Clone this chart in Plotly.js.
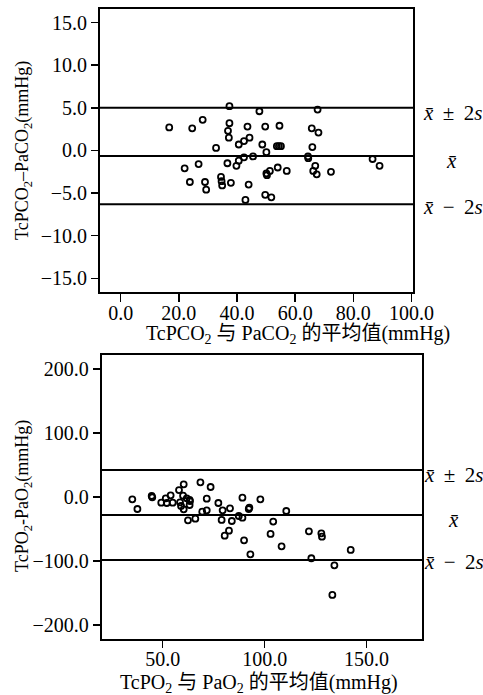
<!DOCTYPE html>
<html><head><meta charset="utf-8">
<script src="https://cdn.plot.ly/plotly-3.0.1.min.js"></script>
<style>body{margin:0;padding:0;background:#fff}#c{width:483px;height:695px}</style>
</head><body><div id="c"></div>
<script>
// Top chart: TcPCO2 vs PaCO2 (Bland-Altman)
const co2Mean = [16.7,24.6,28.2,37.4,47.7,67.7,37.4,36.9,37.2,43.6,49.7,54.6,65.7,68.0,32.8,40.6,42.4,44.3,48.7,53.7,54.4,55.1,65.9,50.1,45.5,42.4,40.6,39.8,36.7,64.4,64.5,86.6,89.0,22.0,26.8,23.8,29.0,29.4,34.5,34.7,34.9,37.9,44.0,42.9,49.7,51.8,50.1,50.3,51.3,54.0,57.1,66.9,66.2,67.4,72.3];
const co2Diff = [2.7,2.6,3.6,5.2,4.6,4.8,3.2,2.3,1.5,2.8,2.8,2.9,2.6,2.1,0.3,0.7,1.1,1.5,0.7,0.5,0.5,0.5,0.4,-0.2,-0.7,-0.8,-1.2,-1.8,-1.5,-0.7,-0.9,-1.0,-1.8,-2.1,-1.6,-3.7,-3.7,-4.6,-3.1,-3.6,-4.1,-3.8,-4.0,-5.8,-5.2,-5.5,-2.7,-2.9,-2.4,-2.0,-2.4,-1.8,-2.4,-2.8,-2.5];
const co2Lines = {mean: -0.65, upper: 5.0, lower: -6.3};
const co2XTicks = [0,20,40,60,80,100];
const co2XTickText = ["0.0","20.0","40.0","60.0","80.0","100.0"];
const co2YTicks = [15,10,5,0,-5,-10,-15];
const co2YTickText = ["15.0","10.0","5.0","0.0","\u22125.0","\u221210.0","\u221215.0"];

// Bottom chart: TcPO2 vs PaO2
const o2Mean = [35.1,37.6,44.6,44.9,49.3,51.5,52.0,53.9,54.9,58.0,58.5,59.0,60.3,60.0,60.3,61.8,63.2,63.4,63.2,62.4,66.0,68.5,69.4,71.6,71.6,73.5,77.3,79.4,78.9,80.4,82.5,83.0,83.9,87.3,89.1,89.1,89.9,92.2,92.5,93.0,97.9,102.9,104.2,108.3,110.6,121.7,122.9,127.8,128.1,134.2,133.2,142.2];
const o2Diff = [-3.6,-18.8,1.6,-0.5,-8.9,-2.1,-9.4,2.6,-8.9,10.9,-8.3,-14.1,19.8,2.1,-19.3,-2.1,-4.7,-6.3,-12.5,-36.5,-33.9,22.9,-22.9,-2.6,-20.8,15.6,-9.4,-20.8,-35.9,-60.4,-52.6,-17.7,-37.5,-29.7,-32.3,-1.0,-67.7,-18.8,-16.7,-89.6,-3.6,-57.8,-38.5,-77.1,-21.9,-53.6,-95.8,-56.8,-62.0,-106.8,-153.1,-82.8];
const o2Lines = {mean: -28.1, upper: 42.2, lower: -98.4};
const o2XTicks = [50,100,150];
const o2XTickText = ["50.0","100.0","150.0"];
const o2YTicks = [200,100,0,-100,-200];
const o2YTickText = ["200.0","100.0","0.0","\u2212100.0","\u2212200.0"];

const labelUpper = "<i>x\u0304</i> \u2009\u00b1 \u20092<i>s</i>";
const labelMean = "<i>x\u0304</i>";
const labelLower = "<i>x\u0304</i> \u2009\u2212 \u20092<i>s</i>";

const FONT = "'Liberation Serif', 'DejaVu Serif', serif";
const CJK = "'Liberation Serif', 'Noto Sans CJK SC', serif";
const marker = {symbol:'circle-open', size:6, color:'#000', line:{width:1.8,color:'#000'}};

const data = [
  {x: co2Mean, y: co2Diff, type:'scatter', mode:'markers', marker: marker, xaxis:'x', yaxis:'y', hoverinfo:'x+y'},
  {x: o2Mean, y: o2Diff, type:'scatter', mode:'markers', marker: marker, xaxis:'x2', yaxis:'y2', hoverinfo:'x+y'}
];

const axBase = {
  showline:true, linecolor:'#000', linewidth:2, mirror:true, showgrid:false, zeroline:false,
  ticks:'outside', tickcolor:'#000', tickwidth:1.5, tickmode:'array',
  tickfont:{family:FONT, size:20, color:'#000'}, automargin:false, fixedrange:true
};

function hline(xref, yref, y){
  return {type:'line', xref: xref + ' domain', yref: yref, x0:0, x1:1, y0:y, y1:y, line:{color:'#000', width:2}};
}

const layout = {
  width:483, height:695, margin:{l:0,r:0,t:0,b:0}, paper_bgcolor:'#fff', plot_bgcolor:'#fff',
  showlegend:false, font:{family:FONT, color:'#000'},
  xaxis: Object.assign({}, axBase, {domain:[0.2070,0.8551], range:[-7.1,100.5], tickvals:co2XTicks, ticktext:co2XTickText, ticklen:8, ticklabelstandoff:-6, anchor:'y'}),
  yaxis: Object.assign({}, axBase, {domain:[0.5799,0.9871], range:[-16.6,16.6], tickvals:co2YTicks, ticktext:co2YTickText, ticklen:7, anchor:'x'}),
  xaxis2: Object.assign({}, axBase, {domain:[0.2106,0.8743], range:[20.1,177.3], tickvals:o2XTicks, ticktext:o2XTickText, ticklen:7, ticklabelstandoff:-6, anchor:'y2'}),
  yaxis2: Object.assign({}, axBase, {domain:[0.0806,0.4892], range:[-222,222], tickvals:o2YTicks, ticktext:o2YTickText, ticklen:7, anchor:'x2'}),
  shapes: [
    hline('x','y',co2Lines.upper), hline('x','y',co2Lines.mean), hline('x','y',co2Lines.lower),
    hline('x2','y2',o2Lines.upper), hline('x2','y2',o2Lines.mean), hline('x2','y2',o2Lines.lower)
  ],
  annotations: [
    {text:'TcPCO<sub>2</sub>\u2013PaCO<sub>2</sub>(mmHg)', xref:'paper', yref:'paper', x:23/483, y:1-151/695, xanchor:'center', yanchor:'middle', textangle:-90, showarrow:false, font:{family:FONT,size:18}},
    {text:'TcPCO<sub>2</sub> 与 PaCO<sub>2</sub> 的平均值(mmHg)', xref:'paper', yref:'paper', x:298/483, y:1-334/695, xanchor:'center', yanchor:'middle', showarrow:false, font:{family:CJK,size:20}},
    {text:'TcPO<sub>2</sub>-PaO<sub>2</sub>(mmHg)', xref:'paper', yref:'paper', x:23/483, y:1-496/695, xanchor:'center', yanchor:'middle', textangle:-90, showarrow:false, font:{family:FONT,size:18}},
    {text:'TcPO<sub>2</sub> 与 PaO<sub>2</sub> 的平均值(mmHg)', xref:'paper', yref:'paper', x:259/483, y:1-683/695, xanchor:'center', yanchor:'middle', showarrow:false, font:{family:CJK,size:20}},
    {text:labelUpper, xref:'paper', yref:'y', x:421/483, y:co2Lines.upper-0.6, xanchor:'left', showarrow:false, font:{family:FONT,size:21}},
    {text:labelMean, xref:'paper', yref:'y', x:451/483, y:co2Lines.mean-0.6, xanchor:'center', showarrow:false, font:{family:FONT,size:21}},
    {text:labelLower, xref:'paper', yref:'y', x:421/483, y:co2Lines.lower-0.3, xanchor:'left', showarrow:false, font:{family:FONT,size:21}},
    {text:labelUpper, xref:'paper', yref:'y2', x:422/483, y:o2Lines.upper-8, xanchor:'left', showarrow:false, font:{family:FONT,size:21}},
    {text:labelMean, xref:'paper', yref:'y2', x:453/483, y:o2Lines.mean-8, xanchor:'center', showarrow:false, font:{family:FONT,size:21}},
    {text:labelLower, xref:'paper', yref:'y2', x:422/483, y:o2Lines.lower-3, xanchor:'left', showarrow:false, font:{family:FONT,size:21}}
  ]
};

Plotly.newPlot('c', data, layout, {displayModeBar:false, staticPlot:true});
</script></body></html>
